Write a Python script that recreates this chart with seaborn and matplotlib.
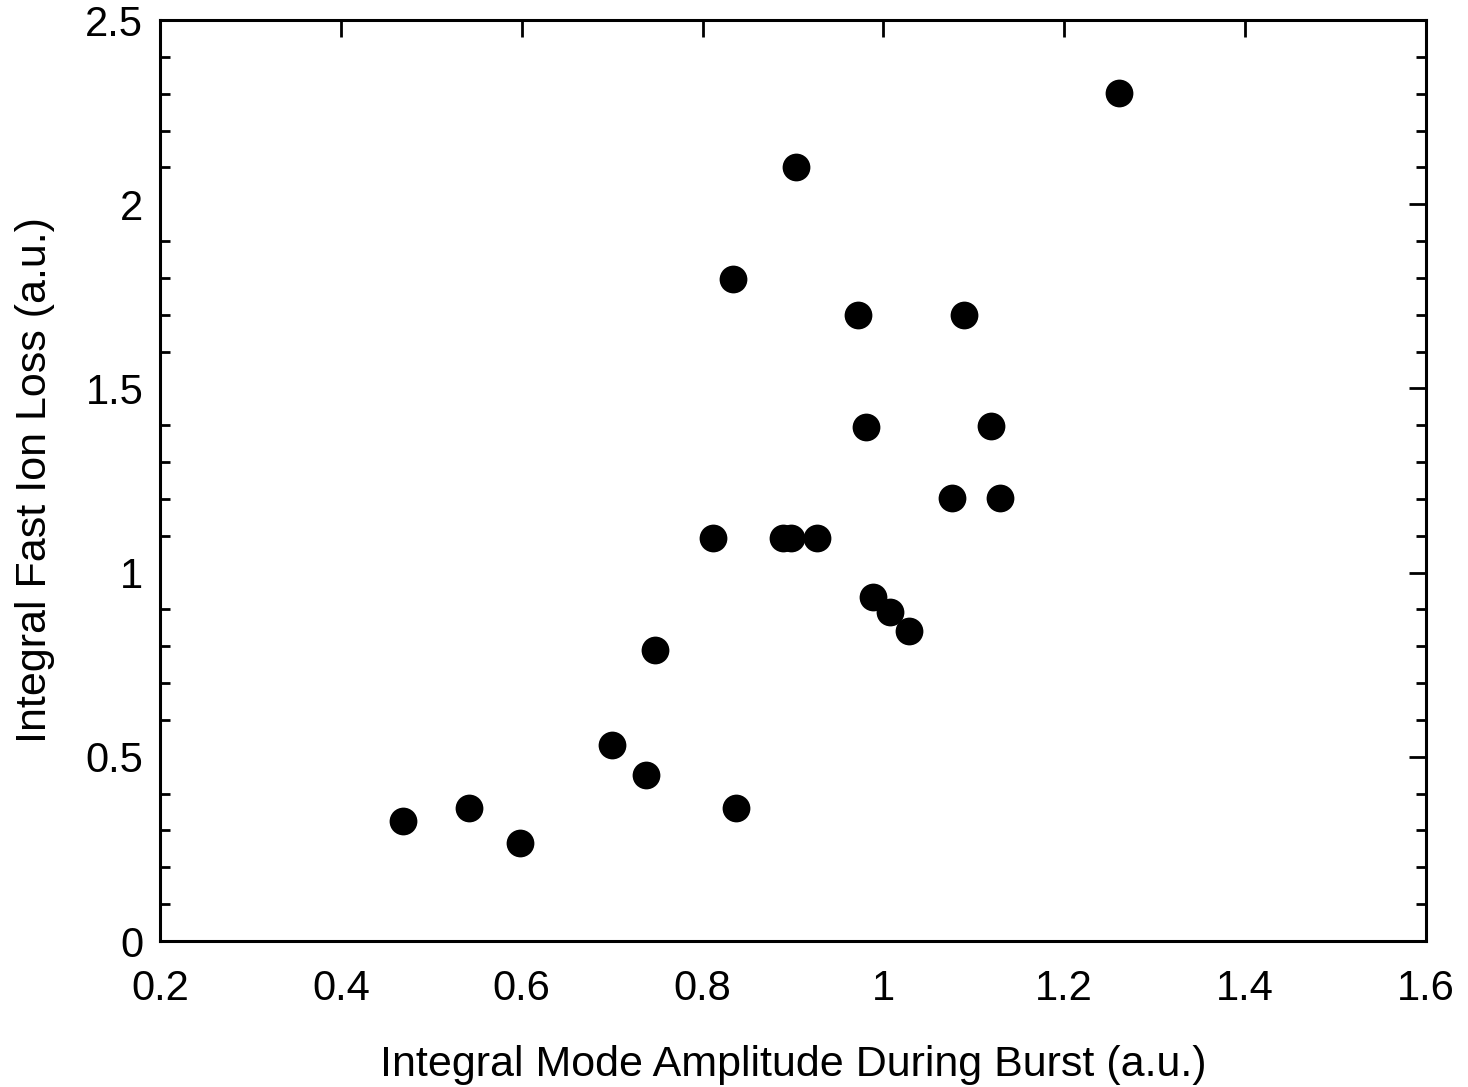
import matplotlib
matplotlib.use("Agg")
import matplotlib.pyplot as plt
import seaborn as sns
import pandas as pd
from matplotlib.ticker import MultipleLocator

mode_amplitude = [0.469, 0.542, 0.598, 0.700, 0.737, 0.747, 0.812, 0.834, 0.837,
                  0.889, 0.898, 0.903, 0.927, 0.972, 0.981, 0.988, 1.007, 1.028,
                  1.076, 1.089, 1.119, 1.129, 1.261]
fast_ion_loss = [0.327, 0.36, 0.267, 0.531, 0.45, 0.79, 1.095, 1.798, 0.36,
                 1.095, 1.095, 2.10, 1.095, 1.698, 1.395, 0.935, 0.894, 0.842,
                 1.202, 1.70, 1.398, 1.202, 2.302]
x_ticks = [0.2, 0.4, 0.6, 0.8, 1.0, 1.2, 1.4, 1.6]
x_tick_labels = ["0.2", "0.4", "0.6", "0.8", "1", "1.2", "1.4", "1.6"]
y_ticks = [0, 0.5, 1, 1.5, 2, 2.5]
y_tick_labels = ["0", "0.5", "1", "1.5", "2", "2.5"]

df = pd.DataFrame({"x": mode_amplitude, "y": fast_ion_loss})

sns.set_style("white")
plt.rcParams['font.family'] = ['Liberation Sans', 'DejaVu Sans']
plt.rcParams['text.color'] = 'black'
plt.rcParams['axes.labelcolor'] = 'black'
plt.rcParams['xtick.color'] = 'black'
plt.rcParams['ytick.color'] = 'black'

fig = plt.figure(figsize=(14.68, 10.87), dpi=100)
ax = fig.add_axes([0.109, 0.1343, 0.8624, 0.8473])
sns.scatterplot(data=df, x="x", y="y", ax=ax, s=400, color="black",
                edgecolor="black", linewidth=0, legend=False)

ax.set_xlim(0.2, 1.6)
ax.set_ylim(0, 2.5)
ax.set_xticks(x_ticks)
ax.set_xticklabels(x_tick_labels)
ax.set_yticks(y_ticks)
ax.set_yticklabels(y_tick_labels)
ax.yaxis.set_minor_locator(MultipleLocator(0.1))

for sp in ax.spines.values():
    sp.set_linewidth(2.2)
    sp.set_color("black")
ax.tick_params(which="major", direction="in", length=12, width=2, labelsize=30,
               top=True, right=True, labelcolor="black", color="black")
ax.tick_params(which="minor", direction="in", length=7, width=2,
               top=False, right=True, left=True, bottom=False)
ax.tick_params(axis="x", pad=20)
ax.tick_params(axis="y", pad=12)

ax.set_xlabel("Integral Mode Amplitude During Burst (a.u.)", fontsize=31,
              labelpad=26, color="black")
ax.set_ylabel("Integral Fast Ion Loss (a.u.)", fontsize=31, labelpad=22,
              color="black")

fig.savefig("out.png", dpi=100)
